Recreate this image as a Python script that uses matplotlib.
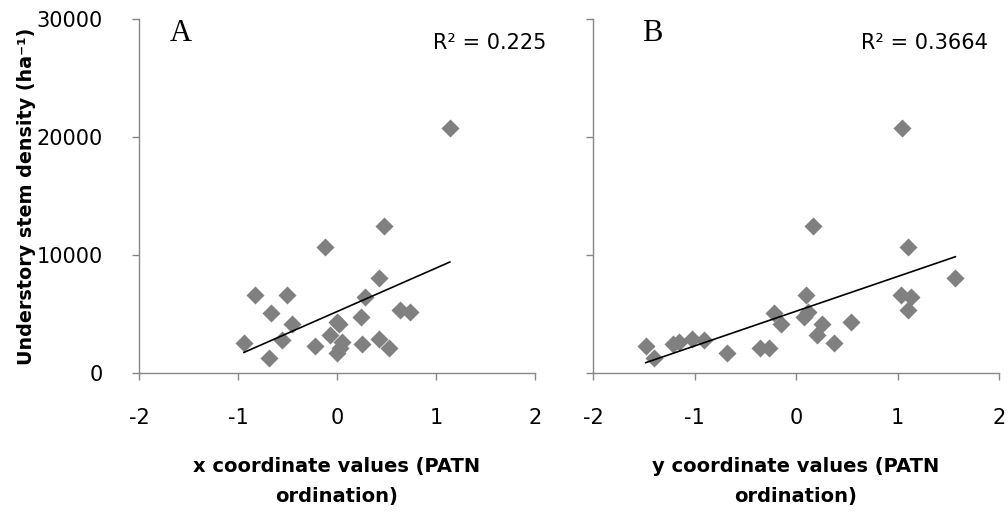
import numpy as np
import matplotlib
matplotlib.use("Agg")
import matplotlib.pyplot as plt

# ---- data ----
density = [20800, 12500, 10700, 8050, 6650, 6580, 6480, 5380, 5150, 5060,
           4780, 4350, 4150, 4150, 3220, 2850, 2800, 2660, 2580, 2460,
           2290, 2090, 2090, 1700, 1250]
x_coord = [1.14, 0.47, -0.12, 0.42, -0.51, -0.83, 0.28, 0.64, 0.74, -0.67,
           0.24, 0.00, -0.45, 0.02, -0.07, 0.42, -0.56, 0.05, -0.94, 0.25,
           -0.22, 0.53, 0.03, 0.00, -0.69]
y_coord = [1.04, 0.17, 1.10, 1.57, 1.03, 0.10, 1.13, 1.10, 0.12, -0.22,
           0.08, 0.54, -0.15, 0.26, 0.21, -1.02, -0.91, -1.15, 0.37, -1.21,
           -1.48, -0.35, -0.27, -0.68, -1.40]
panel_letters = ["A", "B"]
r2_labels = ["R² = 0.225", "R² = 0.3664"]
xlabels = ["x coordinate values (PATN\nordination)", "y coordinate values (PATN\nordination)"]
ylabel = "Understory stem density (ha⁻¹)"
xticks = [-2, -1, 0, 1, 2]
yticks = [0, 10000, 20000, 30000]

W, H = 1008, 513
fig = plt.figure(figsize=(W / 100, H / 100), dpi=100)
plt.rcParams['font.family'] = ['DejaVu Sans']

def px_axes(l, t, r, b):
    return fig.add_axes([l / W, 1 - b / H, (r - l) / W, (b - t) / H])

axA = px_axes(139, 19, 535, 373)
axB = px_axes(593, 19, 999, 373)

spine_c = "#868686"
for i, (ax, xs) in enumerate(zip([axA, axB], [x_coord, y_coord])):
    ax.scatter(xs, density, marker="D", s=9.2 ** 2, color="#808080", linewidths=0, zorder=3)
    coef = np.polyfit(xs, density, 1)
    xl = np.array([min(xs), max(xs)])
    ax.plot(xl, np.polyval(coef, xl), color="black", lw=1.2, zorder=4)
    ax.set_xlim(-2, 2)
    ax.set_ylim(0, 30000)
    ax.set_xticks(xticks)
    ax.set_yticks(yticks)
    ax.set_xticklabels([str(v) for v in xticks])
    for s in ["top", "right"]:
        ax.spines[s].set_visible(False)
    for s in ["left", "bottom"]:
        ax.spines[s].set_color(spine_c)
        ax.spines[s].set_linewidth(1.0)
    ax.tick_params(axis="both", color=spine_c, length=5, width=1.0, direction="out",
                   labelsize=15, labelcolor="black")
    ax.tick_params(axis="x", pad=20)
    ax.tick_params(axis="y", pad=21)
    ax.set_xlabel(xlabels[i], fontsize=14, fontweight="bold", labelpad=21, linespacing=1.75)
    ax.set_facecolor("none")

axB.set_yticklabels([])
axA.set_yticklabels([str(v) for v in yticks])
fig.text(27 / W, 1 - 196 / H, ylabel, rotation=90, fontsize=13.8, fontweight="bold",
         ha="center", va="center")

# panel letters
for letter, xp in zip(panel_letters, [170, 642]):
    fig.text(xp / W, 1 - 41 / H, letter, fontsize=22, family="Liberation Serif",
             ha="left", va="baseline")
# R² labels
for lab, xr in zip(r2_labels, [546, 988]):
    fig.text(xr / W, 1 - 49 / H, lab, fontsize=15, ha="right", va="baseline")

fig.savefig("out.png", dpi=100)
